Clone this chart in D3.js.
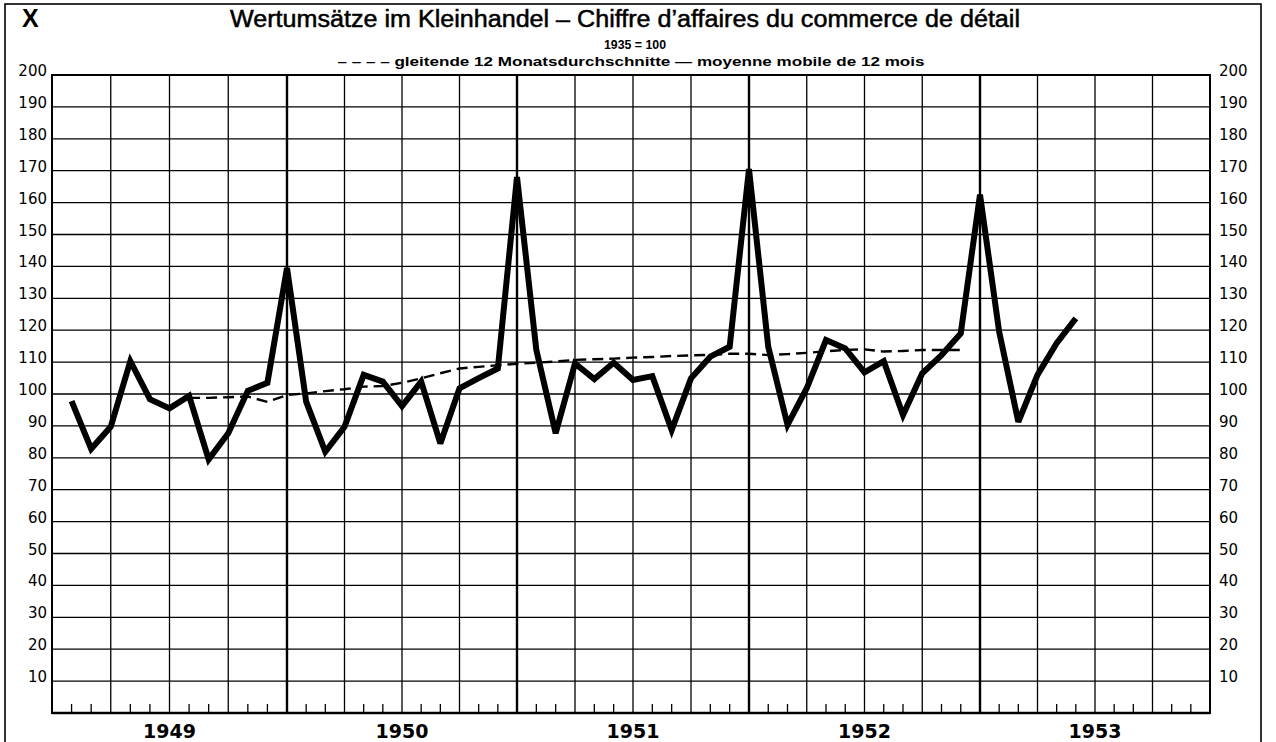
<!DOCTYPE html>
<html>
<head>
<meta charset="utf-8">
<script src="https://cdn.jsdelivr.net/npm/d3@7"></script>
<style>
  html, body { margin: 0; padding: 0; background: #fff; }
  svg { display: block; }
</style>
</head>
<body>
<svg id="chart" width="1276" height="742"></svg>
<script>
// ---- data ----
const years = [1949, 1950, 1951, 1952, 1953];
const yTicks = [10,20,30,40,50,60,70,80,90,100,110,120,130,140,150,160,170,180,190,200];
// monthly retail turnover index (1935 = 100), Jan 1949 .. May 1953
const retail = [
  97.8, 82.8, 89.7, 110.3, 98.4, 95.5, 99.4, 79.5, 87.7, 101, 103.5, 139.5,
  97.6, 81.9, 89.7, 106, 103.9, 96.2, 103.9, 84.5, 101.8, 105, 108, 168,
  113.8, 87.7, 109.6, 104.7, 109.8, 104.4, 105.6, 88.7, 104.9, 111.7, 114.8, 170.5,
  114.8, 90.3, 101.8, 116.9, 114.3, 106.8, 110.3, 93.4, 106.5, 112.2, 119, 162.5,
  119.5, 91.3, 106, 115.9, 123.7
];
// 12-month moving average, Jul 1949 .. Nov 1952
const movingAvgStart = 7;
const movingAvg = [
  98.8, 98.8, 99.0, 99.2, 97.5, 99.7,
  100.2, 100.9, 101.5, 102.3, 102.5, 103.5, 104.9, 106.5, 108, 108.5, 109, 109.5,
  109.8, 110.2, 110.7, 110.9, 111.1, 111.4, 111.6, 111.9, 112.1, 112.3, 112.6, 112.6,
  112.2, 112.5, 112.9, 113.4, 113.8, 114, 113.3, 113.5, 113.8, 113.8, 113.8
];
const titleText = "Wertumsätze im Kleinhandel – Chiffre d’affaires du commerce de détail";
const baseText = "1935 = 100";
const legendText = "– – – – gleitende 12 Monatsdurchschnitte — moyenne mobile de 12 mois";

// ---- scales ----
const svg = d3.select("#chart");
const x = d3.scaleLinear().domain([0, 12, 24, 36, 48, 60]).range([52, 287, 517, 749, 980, 1210]);
const y = d3.scaleLinear().domain([0, 200]).range([713, 75]);
const months = d3.range(0, 61);

// outer frame
svg.append("rect").attr("x", 5).attr("y", 4).attr("width", 1256).attr("height", 760)
  .attr("fill", "none").attr("stroke", "#000").attr("stroke-width", 1.6);

// horizontal grid
svg.append("g").selectAll("line").data(yTicks.filter(d => d < 200)).join("line")
  .attr("x1", x(0)).attr("x2", x(60)).attr("y1", d => y(d)).attr("y2", d => y(d))
  .attr("stroke", "#000").attr("stroke-width", 1.3);

// vertical grid (quarters), thicker at year boundaries
svg.append("g").selectAll("line").data(months.filter(m => m % 3 === 0 && m > 0 && m < 60)).join("line")
  .attr("x1", d => x(d)).attr("x2", d => x(d)).attr("y1", y(200)).attr("y2", y(0))
  .attr("stroke", "#000").attr("stroke-width", d => d % 12 === 0 ? 2.4 : 1.3);

// monthly ticks
svg.append("g").selectAll("line").data(months.filter(m => m % 3 !== 0)).join("line")
  .attr("x1", d => x(d)).attr("x2", d => x(d)).attr("y1", y(0)).attr("y2", y(0) - 9)
  .attr("stroke", "#000").attr("stroke-width", 1.3);

// plot frame
svg.append("rect").attr("x", x(0)).attr("y", y(200)).attr("width", x(60) - x(0)).attr("height", y(0) - y(200))
  .attr("fill", "none").attr("stroke", "#000").attr("stroke-width", 2);
svg.append("line").attr("x1", x(0)).attr("x2", x(60)).attr("y1", y(0)).attr("y2", y(0))
  .attr("stroke", "#000").attr("stroke-width", 2.6);

// y labels
const lab = svg.append("g").attr("font-family", "DejaVu Sans").attr("font-size", 15).attr("fill", "#000");
lab.selectAll("text.l").data(yTicks).join("text").attr("class", "l")
  .attr("x", 47).attr("y", d => y(d) + 1).attr("text-anchor", "end").text(d => d);
lab.selectAll("text.r").data(yTicks).join("text").attr("class", "r")
  .attr("x", 1219).attr("y", d => y(d) + 1).attr("text-anchor", "start").text(d => d);

// year labels
svg.append("g").selectAll("text").data(years).join("text")
  .attr("x", (d, i) => x(i * 12 + 6)).attr("y", 738).attr("text-anchor", "middle")
  .attr("font-family", "DejaVu Sans").attr("font-weight", "bold").attr("font-size", 19)
  .text(d => d);

// moving average (dashed)
svg.append("path").datum(movingAvg)
  .attr("d", d3.line().x((d, i) => x(movingAvgStart + i)).y(d => y(d)))
  .attr("fill", "none").attr("stroke", "#000").attr("stroke-width", 2.4)
  .attr("stroke-dasharray", "11,6");

// retail turnover (solid thick)
svg.append("path").datum(retail)
  .attr("d", d3.line().x((d, i) => x(i + 1)).y(d => y(d)))
  .attr("fill", "none").attr("stroke", "#000").attr("stroke-width", 6)
  .attr("stroke-linejoin", "miter").attr("stroke-miterlimit", 3);

// titles
svg.append("text").attr("x", 22).attr("y", 27).attr("font-family", "Liberation Sans")
  .attr("font-weight", "bold").attr("font-size", 25).text("X");
svg.append("text").attr("x", 625).attr("y", 27).attr("text-anchor", "middle")
  .attr("font-family", "Liberation Sans").attr("font-size", 23)
  .attr("stroke", "#000").attr("stroke-width", 0.5)
  .attr("textLength", 790).attr("lengthAdjust", "spacingAndGlyphs")
  .text(titleText);
svg.append("text").attr("x", 635).attr("y", 49).attr("text-anchor", "middle")
  .attr("font-family", "Liberation Sans").attr("font-weight", "bold").attr("font-size", 12)
  .attr("textLength", 62).attr("lengthAdjust", "spacingAndGlyphs")
  .text(baseText);
svg.append("text").attr("x", 631).attr("y", 66).attr("text-anchor", "middle")
  .attr("font-family", "Liberation Sans").attr("font-weight", "bold").attr("font-size", 13)
  .attr("textLength", 587).attr("lengthAdjust", "spacingAndGlyphs")
  .text(legendText);
</script>
</body>
</html>
